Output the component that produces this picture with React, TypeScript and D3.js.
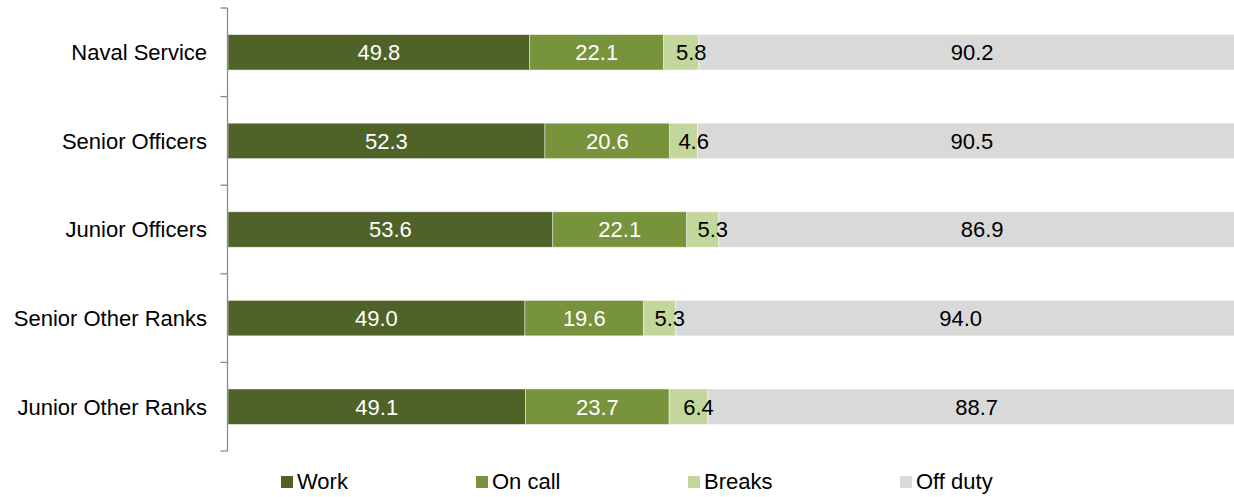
import React from "react";
import * as d3 from "d3";

const categories = ["Naval Service", "Senior Officers", "Junior Officers", "Senior Other Ranks", "Junior Other Ranks"];
const seriesNames = ["Work", "On call", "Breaks", "Off duty"];
const work = [49.8, 52.3, 53.6, 49.0, 49.1];
const onCall = [22.1, 20.6, 22.1, 19.6, 23.7];
const breaks = [5.8, 4.6, 5.3, 5.3, 6.4];
const offDuty = [90.2, 90.5, 86.9, 94.0, 88.7];
const colors = ["#4F6228", "#77933C", "#C3D69B", "#D9D9D9"];
const labelColors = ["#ffffff", "#ffffff", "#000000", "#000000"];

const W = 1234;
const H = 497;
const FONT = "'Liberation Sans', Arial, sans-serif";
const FS = 22;

export default function App() {
  const x = d3.scaleLinear().domain([0, 168]).range([228, 1246]);
  const y = d3.scaleBand<string>().domain(categories).range([8, 451]).padding(0);
  const barH = y.bandwidth() * 0.4;

  const rows = categories.map((c, i) => ({
    cat: c,
    Work: work[i],
    "On call": onCall[i],
    Breaks: breaks[i],
    "Off duty": offDuty[i],
  }));
  const stack = d3.stack<any>().keys(seriesNames)(rows);
  const cyOf = (i: number) => (y(categories[i]) as number) + y.bandwidth() / 2;

  const tickYs = [...categories.map((c) => y(c) as number), 451];
  const legendX = [281, 476, 688, 900];

  return (
    <div style={{ position: "absolute", left: 0, top: 0 }}>
      <svg width={W} height={H} style={{ display: "block" }} fontFamily={FONT}>
        <rect width={W} height={H} fill="#fff" />
        {stack.map((layer, si) => (
          <g key={layer.key}>
            {layer.map((d, i) => {
              const cy = cyOf(i);
              const x0 = x(d[0]);
              const x1 = x(d[1]);
              return (
                <rect
                  key={i}
                  x={x0}
                  y={cy - barH / 2}
                  width={x1 - x0}
                  height={barH}
                  fill={colors[si]}
                  stroke="#ffffff"
                  strokeWidth={0.75}
                  strokeOpacity={0.6}
                />
              );
            })}
          </g>
        ))}
        {stack.map((layer, si) => (
          <g key={"l" + layer.key}>
            {layer.map((d, i) => {
              const x0 = x(d[0]);
              const x1 = x(d[1]);
              return (
                <text
                  key={i}
                  x={(x0 + x1) / 2 + (si === 2 ? 10 : 0)}
                  y={cyOf(i)}
                  dy="0.36em"
                  textAnchor="middle"
                  fontSize={FS}
                  fill={labelColors[si]}
                >
                  {(d[1] - d[0]).toFixed(1)}
                </text>
              );
            })}
          </g>
        ))}
        <line x1={227.5} x2={227.5} y1={8} y2={451} stroke="#8a8a8a" strokeWidth={1.3} />
        {tickYs.map((t, i) => (
          <line key={i} x1={220.5} x2={227.5} y1={t} y2={t} stroke="#8a8a8a" strokeWidth={1.3} />
        ))}
        {categories.map((c, i) => (
          <text key={c} x={207} y={cyOf(i)} dy="0.36em" textAnchor="end" fontSize={FS} fill="#000">
            {c}
          </text>
        ))}
        {seriesNames.map((s, i) => (
          <g key={s}>
            <rect x={legendX[i]} y={476} width={12} height={12} fill={colors[i]} />
            <text x={legendX[i] + 16} y={488.5} fontSize={FS} fill="#000">
              {s}
            </text>
          </g>
        ))}
      </svg>
    </div>
  );
}
